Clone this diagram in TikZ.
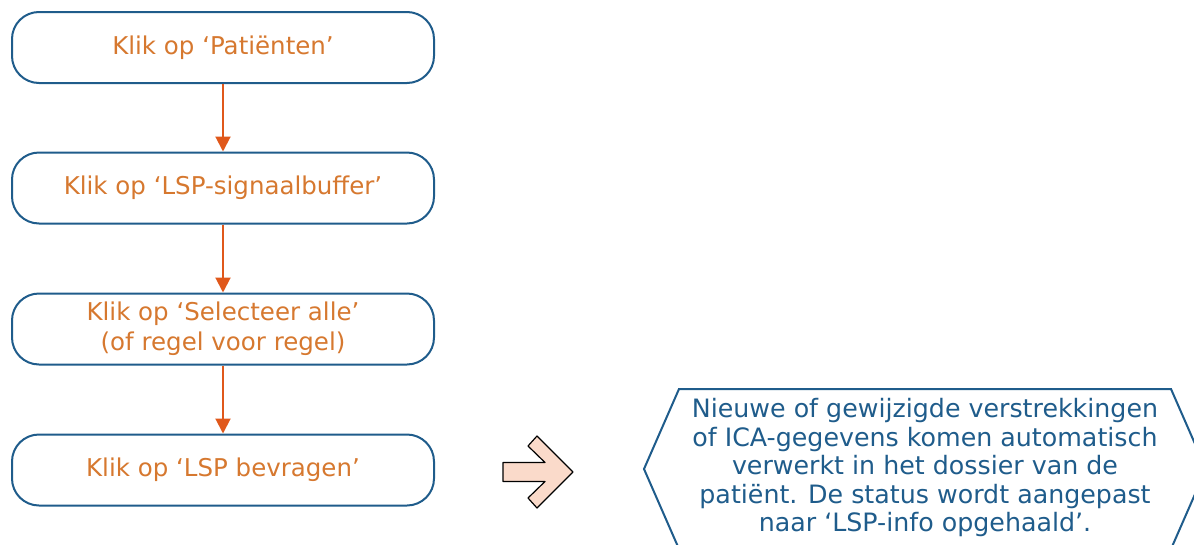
\documentclass[tikz,border=0pt]{standalone}
\usepackage{fontspec}
\setmainfont{DejaVu Sans}
\usetikzlibrary{arrows.meta}

\definecolor{boxblue}{HTML}{1F5C8B}
\definecolor{steporange}{HTML}{D6782F}
\definecolor{linkorange}{HTML}{E0581B}
\definecolor{peach}{HTML}{FADACA}

\begin{document}
\begin{tikzpicture}[x=1pt,y=-1pt,
    stepbox/.style={draw=boxblue, line width=2pt, rounded corners=27pt,
      minimum width=422pt, minimum height=71pt, align=center,
      text=steporange, font=\fontsize{24.5}{30}\selectfont},
    link/.style={-{Triangle[length=15pt,width=15pt]}, draw=linkorange, line width=2pt}]
    \useasboundingbox (0,0) rectangle (1194,544);

    % stappen
    \node[stepbox] (patienten) at (223,47.5) {Klik op ‘Patiënten’};
    \node[stepbox] (buffer) at (223,188) {Klik op ‘LSP-signaalbuffer’};
    \node[stepbox] (selecteer) at (223,329) {Klik op ‘Selecteer alle’\\(of regel voor regel)};
    \node[stepbox] (bevragen) at (223,470) {Klik op ‘LSP bevragen’};

    % pijlen tussen de stappen
    \draw[link] (patienten) -- (buffer);
    \draw[link] (buffer) -- (selecteer);
    \draw[link] (selecteer) -- (bevragen);

    % blokpijl
    \draw[fill=peach, line width=1.2pt, line join=round]
      (503,462.5) -- (545,462.5) -- (528,446) -- (537,436) -- (573,472)
      -- (537,508) -- (528,498) -- (545,481.5) -- (503,481.5) -- cycle;

    % resultaat (zeshoek)
    \begin{scope}
      \clip (0,0) rectangle (1194,544);
      \draw[boxblue, line width=2pt] (679,389) -- (1171,389) -- (1206,469)
        -- (1171,549) -- (679,549) -- (644,469) -- cycle;
    \end{scope}
    \node[text=boxblue, align=center, font=\fontsize{25.3}{28.5}\selectfont] (resultaat) at (925,468)
      {Nieuwe of gewijzigde verstrekkingen\\of ICA-gegevens komen automatisch\\verwerkt in het dossier van de\\patiënt. De status wordt aangepast\\naar ‘LSP-info opgehaald’.};
\end{tikzpicture}
\end{document}
